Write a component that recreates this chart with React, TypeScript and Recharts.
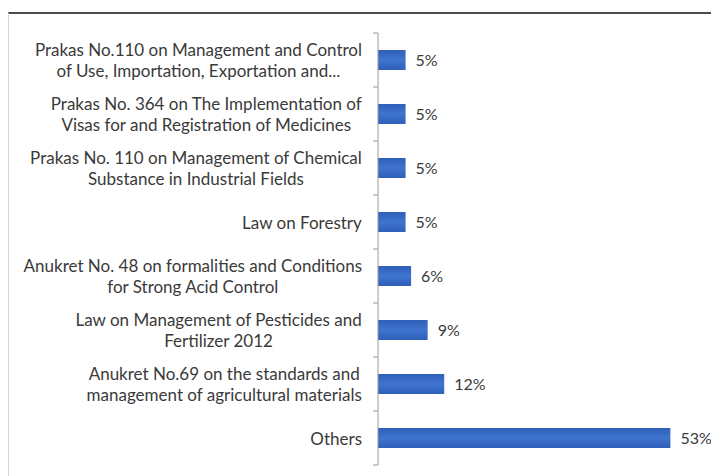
import React from "react";
import { BarChart, Bar, XAxis, YAxis, LabelList } from "recharts";

const categoryLines: string[][] = [
  ["Prakas No.110 on Management and Control", "of Use, Importation, Exportation and..."],
  ["Prakas No. 364 on The Implementation of", "Visas for and Registration of Medicines"],
  ["Prakas No. 110 on Management of Chemical", "Substance in Industrial Fields"],
  ["Law on Forestry"],
  ["Anukret No. 48 on formalities and Conditions", "for Strong Acid Control"],
  ["Law on Management of Pesticides and", "Fertilizer 2012"],
  ["Anukret No.69 on the standards and", "management of agricultural materials"],
  ["Others"],
];
const categories = categoryLines.map((l) => l.join(" "));
const shares = [5, 5, 5, 5, 6, 9, 12, 53];
const xDomain: [number, number] = [0, 60];

const data = categories.map((name, i) => ({ name, value: shares[i] }));

const W = 711;
const H = 468;
const MARGIN = { top: 25, right: 10, bottom: 11, left: 0 };
const AXIS_W = 370;
const BAND = (H - MARGIN.top - MARGIN.bottom) / categories.length;

const FONT_FAMILY = "Lato, 'Open Sans', sans-serif";
const FONT_SIZE = 17;
const TEXT_COLOR = "#3a3a3a";
const LINE_H = 21;

let ctx: CanvasRenderingContext2D | null = null;
function measure(t: string): number {
  if (!ctx) ctx = document.createElement("canvas").getContext("2d");
  if (!ctx) return t.length * 8;
  ctx.font = `${FONT_SIZE}px Lato`;
  return ctx.measureText(t).width;
}

const CategoryTick = (props: any) => {
  const { x, y, payload, index } = props;
  const idx = payload?.index ?? index ?? 0;
  const lines = categoryLines[idx] || [String(payload?.value)];
  const blockW = Math.max(...lines.map(measure));
  const right = x - 16;
  const cx = right - blockW / 2;
  const start = y - ((lines.length - 1) * LINE_H) / 2;
  const isLast = idx === categoryLines.length - 1;
  return (
    <g>
      <line x1={x - 5} x2={x} y1={y - BAND / 2} y2={y - BAND / 2} stroke="#9a9a9a" />
      {isLast && <line x1={x - 5} x2={x} y1={y + BAND / 2} y2={y + BAND / 2} stroke="#9a9a9a" />}
      {lines.map((ln, i) => (
        <text
          key={i}
          x={cx}
          y={start + i * LINE_H}
          textAnchor="middle"
          dominantBaseline="central"
          fontFamily={FONT_FAMILY}
          fontSize={FONT_SIZE}
          fill={TEXT_COLOR}
        >
          {ln}
        </text>
      ))}
    </g>
  );
};

export default function App() {
  return (
    <div style={{ position: "relative", width: W, height: H, background: "#fff" }}>
      <div
        style={{
          position: "absolute",
          left: 0,
          top: 4,
          width: W,
          height: H - 4,
          borderTop: "2px solid #4a4a4a",
          borderLeft: "1px solid #d4d4d4",
          boxSizing: "border-box",
        }}
      />
      <div style={{ position: "absolute", left: 0, top: 0 }}>
        <BarChart width={W} height={H} data={data} layout="vertical" margin={MARGIN}>
          <defs>
            <linearGradient id="barFill" x1="0" y1="0" x2="0" y2="1">
              <stop offset="0%" stopColor="#2f5fb8" />
              <stop offset="50%" stopColor="#3f74d0" />
              <stop offset="100%" stopColor="#2f5fb8" />
            </linearGradient>
          </defs>
          <XAxis type="number" domain={xDomain} hide />
          <YAxis
            type="category"
            dataKey="name"
            width={AXIS_W}
            axisLine={{ stroke: "#9a9a9a" }}
            tickLine={false}
            tickSize={0}
            tickMargin={0}
            interval={0}
            tick={<CategoryTick />}
          />
          <Bar dataKey="value" fill="url(#barFill)" barSize={20} isAnimationActive={false}>
            <LabelList
              dataKey="value"
              position="right"
              offset={10}
              formatter={(v: any) => `${v}%`}
              style={{ fontFamily: FONT_FAMILY, fontSize: 16, fill: TEXT_COLOR }}
            />
          </Bar>
        </BarChart>
      </div>
    </div>
  );
}
